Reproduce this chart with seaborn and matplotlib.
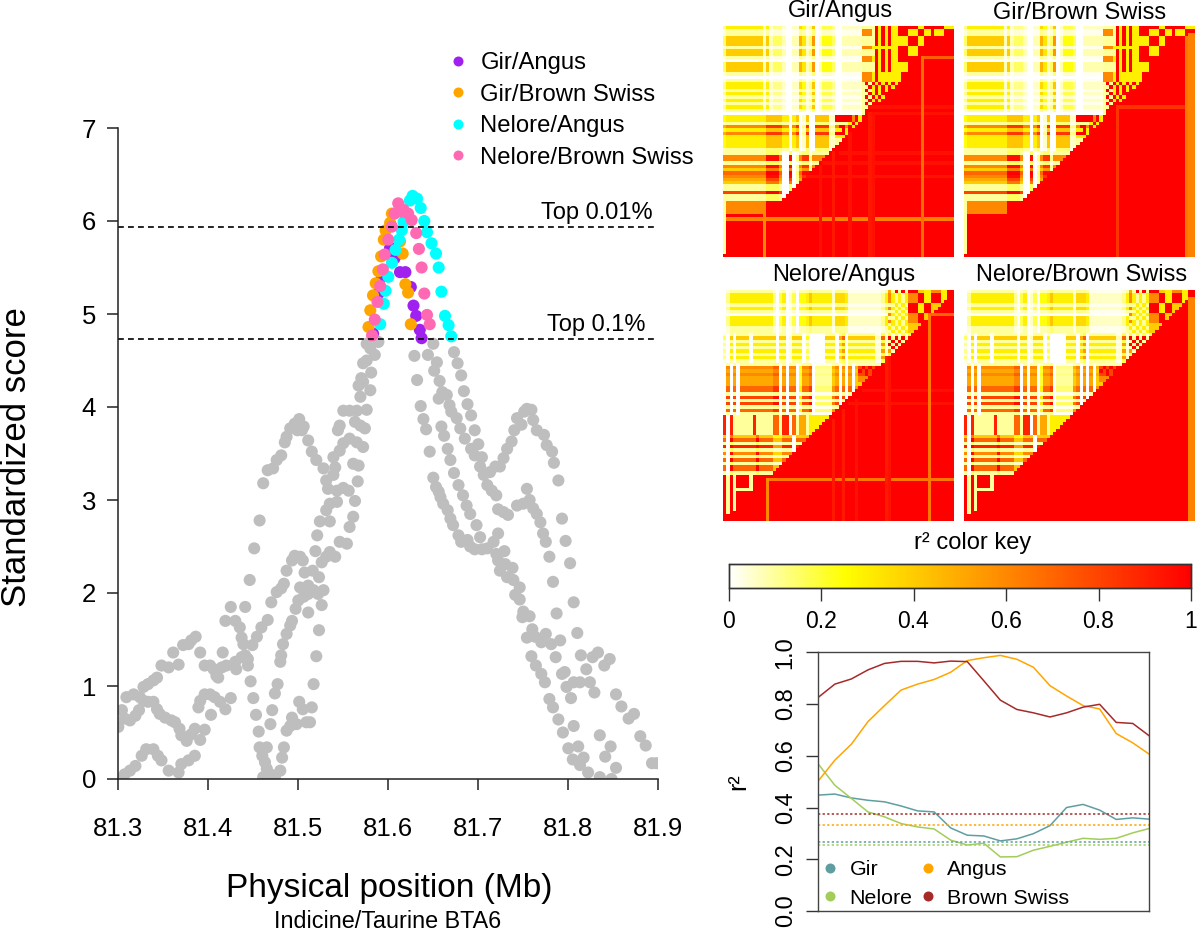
import numpy as np
import pandas as pd
import seaborn as sns
import matplotlib
matplotlib.use("Agg")
import matplotlib.pyplot as plt
from matplotlib.colors import LinearSegmentedColormap
from matplotlib.lines import Line2D

# ---------- main panel data: (position Mb, standardized score) ----------
GRAY_A = [(81.300,0.00),(81.307,.05),(81.313,.09),(81.319,.14),(81.326,.25),(81.331,.32),(81.339,.32),(81.344,.25),(81.348,.20),(81.356,.09),(81.367,.07),(81.370,.16),(81.378,.20),(81.385,.25)]
GRAY_B = [(81.300,.56),(81.304,.74),(81.307,.65),(81.313,.63),(81.319,.68),(81.323,.74),(81.309,.88),(81.317,.91),(81.324,.88),(81.328,.84),(81.333,.83),(81.339,.83),(81.343,.75),(81.346,.70),(81.352,.66),(81.359,.63),(81.363,.61),(81.368,.54),(81.370,.47),(81.376,.41),(81.381,.48),(81.385,.54),(81.391,.42),(81.396,.53)]
GRAY_C = [(81.328,.99),(81.333,1.02),(81.339,1.06),(81.343,1.09),(81.348,1.22),(81.356,1.20),(81.361,1.36),(81.367,1.23),(81.372,1.44),(81.378,1.45),(81.381,1.49),(81.386,1.53),(81.391,1.36)]
GRAY_D = [(81.389,.77),(81.391,.84),(81.396,.91),(81.402,.91),(81.407,.88),(81.413,.83),(81.419,.75),(81.403,.69),(81.425,.87)]
GRAY_E = [(81.396,1.22),(81.402,1.22),(81.406,1.18),(81.409,1.11),(81.411,1.09),(81.415,1.20),(81.420,1.22),(81.416,1.36),(81.431,1.18),(81.430,1.26),(81.437,1.31),(81.441,1.33),(81.444,1.29),(81.444,1.22),(81.447,1.05),(81.450,.87),(81.453,.69),(81.456,.51),(81.457,.34),(81.465,.34),(81.460,.25),(81.463,.18),(81.465,.11),(81.469,.05),(81.461,.02),(81.474,.02),(81.480,.09),(81.482,.23),(81.484,.34),(81.469,.59),(81.471,.74),(81.474,.92),(81.477,1.02),(81.487,.52),(81.491,.57),(81.493,.66),(81.498,.59),(81.509,.61),(81.513,.61),(81.501,.83),(81.505,.75),(81.515,.77),(81.517,1.02),(81.520,1.32),(81.523,1.60),(81.511,1.79)]
GRAY_F = [(81.419,1.70),(81.425,1.85),(81.430,1.70),(81.435,1.63),(81.437,1.52),(81.439,1.45),(81.449,1.44),(81.454,1.53),(81.459,1.63),(81.466,1.71),(81.441,1.85)]
GRAY_G = [(81.470,1.90),(81.476,2.01),(81.481,2.05),(81.484,2.10),(81.487,2.24),(81.493,2.35),(81.496,2.40),(81.502,2.39),(81.505,2.35),(81.446,2.14),(81.451,2.48),(81.457,2.78),(81.461,3.18)]
GRAY_H = [(81.480,1.26),(81.481,1.33),(81.483,1.45),(81.487,1.56),(81.491,1.65),(81.493,1.70),(81.497,1.83),(81.500,1.92),(81.506,1.96),(81.511,1.99),(81.517,2.03),(81.522,1.99),(81.528,2.03),(81.526,1.87),(81.502,2.06),(81.511,2.08),(81.507,2.22),(81.516,2.24),(81.523,2.17),(81.519,2.45),(81.521,2.62),(81.526,2.33),(81.531,2.39),(81.535,2.44),(81.541,2.39),(81.546,2.55),(81.554,2.53),(81.557,2.71),(81.561,2.82),(81.524,2.77),(81.535,2.77),(81.531,2.89),(81.535,2.96),(81.543,2.98),(81.531,3.21),(81.533,3.12),(81.543,3.10),(81.550,3.13),(81.556,3.10),(81.563,2.99),(81.566,3.20),(81.561,3.39),(81.567,3.37),(81.539,3.27),(81.541,3.35),(81.539,3.46),(81.546,3.53),(81.550,3.61),(81.557,3.66),(81.565,3.62),(81.572,3.57),(81.544,3.75),(81.546,3.80),(81.550,3.96),(81.557,3.96),(81.565,3.96),(81.576,3.97),(81.563,3.84),(81.569,3.80),(81.574,3.77),(81.569,4.11),(81.580,4.18),(81.567,4.23),(81.572,4.27)]
GRAY_I = [(81.485,3.62),(81.487,3.68),(81.491,3.77),(81.496,3.82),(81.501,3.87),(81.504,3.75),(81.506,3.79),(81.499,3.75),(81.511,3.64),(81.515,3.52),(81.520,3.43),(81.528,3.34),(81.466,3.32),(81.472,3.34),(81.476,3.43),(81.481,3.48)]
GRAY_TOP = [(81.570,4.31),(81.581,4.37),(81.572,4.47),(81.576,4.50),(81.585,4.56),(81.580,4.63),(81.576,4.68),(81.589,4.70)]
GRAY_R1 = [(81.629,4.55),(81.632,4.29),(81.636,4.01),(81.639,3.87),(81.642,3.76),(81.646,3.52),(81.650,3.24),(81.653,3.14),(81.656,3.09),(81.658,3.03),(81.661,2.96),(81.666,2.89),(81.669,2.80),(81.672,2.73),(81.678,2.62),(81.681,2.55),(81.688,2.57),(81.691,2.50),(81.696,2.47),(81.704,2.47),(81.710,2.48),(81.702,2.60),(81.722,2.64),(81.717,2.55),(81.729,2.45),(81.720,2.42),(81.722,2.35),(81.724,2.24),(81.730,2.31),(81.738,2.27),(81.732,2.17),(81.739,2.14),(81.746,2.06),(81.741,1.98),(81.746,1.93),(81.750,1.80),(81.749,1.74),(81.757,1.75),(81.760,1.61),(81.754,1.52),(81.763,1.53),(81.770,1.47),(81.775,1.56),(81.781,1.45),(81.791,1.49)]
GRAY_R2 = [(81.759,1.32),(81.764,1.22),(81.770,1.13),(81.774,1.04),(81.779,.86),(81.783,.77),(81.789,.64),(81.794,.50),(81.800,.33),(81.805,.21),(81.811,.35),(81.817,.23),(81.813,.15),(81.822,.07),(81.835,.02),(81.848,.00),(81.806,.57),(81.786,1.31),(81.793,1.13),(81.796,1.15),(81.798,.99),(81.803,.87),(81.806,1.04),(81.813,1.04),(81.824,1.04),(81.829,.93),(81.820,1.18),(81.814,1.33),(81.827,1.31),(81.833,1.36),(81.840,1.22),(81.846,1.29),(81.853,.91),(81.859,.78),(81.867,.65),(81.873,.70),(81.880,.46),(81.886,.36),(81.893,.17),(81.898,.17),(81.835,.47),(81.847,.35),(81.841,.24),(81.853,.12)]
GRAY_R3 = [(81.810,1.57),(81.806,1.90),(81.787,1.78),(81.802,2.32),(81.783,2.12),(81.797,2.56),(81.779,2.39),(81.793,2.80),(81.775,2.55),(81.772,2.64),(81.769,2.76),(81.765,2.85),(81.761,2.91),(81.757,3.00),(81.754,3.12),(81.750,2.96),(81.743,2.94),(81.733,2.84),(81.728,2.87),(81.722,2.90),(81.720,3.05),(81.715,3.10),(81.710,3.16),(81.706,3.27),(81.702,3.36),(81.696,3.48),(81.692,3.55),(81.685,3.66),(81.680,3.77),(81.676,3.88),(81.670,3.95),(81.668,4.02),(81.665,4.13),(81.656,4.09),(81.660,4.16),(81.657,4.28),(81.651,4.39),(81.654,4.48),(81.644,4.56),(81.650,4.68)]
GRAY_R4 = [(81.673,4.59),(81.677,4.47),(81.681,4.34),(81.684,4.17),(81.688,4.03),(81.692,3.91),(81.696,3.75),(81.700,3.60),(81.704,3.46),(81.719,3.36),(81.713,3.30),(81.724,3.36),(81.728,3.45),(81.732,3.55),(81.737,3.63),(81.740,3.75),(81.748,3.81),(81.743,3.88),(81.751,3.95),(81.754,3.98),(81.759,3.97),(81.761,3.86),(81.765,3.75),(81.773,3.70),(81.776,3.59),(81.782,3.52),(81.784,3.40),(81.789,3.21)]
GRAY_R5 = [(81.659,3.79),(81.662,3.69),(81.666,3.55),(81.669,3.43),(81.673,3.29),(81.678,3.16),(81.683,3.05),(81.687,2.94),(81.691,2.85),(81.698,2.73)]
GIR_ANGUS = [(81.637,4.74),(81.635,4.83),(81.631,4.98),(81.628,5.09),(81.625,5.29),(81.619,5.45),(81.613,5.45),(81.607,5.60),(81.602,5.71),(81.589,5.22),(81.583,4.79),(81.593,5.40)]
GIR_BROWN = [(81.578,4.86),(81.580,5.04),(81.583,5.20),(81.586,5.33),(81.589,5.46),(81.592,5.62),(81.595,5.80),(81.597,5.90),(81.602,5.98),(81.604,6.08),(81.616,5.65),(81.619,5.32),(81.622,5.23),(81.625,4.89),(81.613,5.78)]
NELORE_ANGUS = [(81.670,4.76),(81.667,4.88),(81.663,4.98),(81.659,5.24),(81.656,5.50),(81.653,5.65),(81.648,5.76),(81.643,5.88),(81.640,6.00),(81.636,6.14),(81.632,6.24),(81.627,6.27),(81.624,6.22),(81.617,5.99),(81.615,5.90),(81.612,5.80),(81.608,5.69),(81.604,5.55),(81.600,5.40),(81.597,5.25),(81.595,5.11),(81.591,4.89)]
NELORE_BROWN = [(81.582,4.77),(81.585,4.94),(81.588,5.13),(81.591,5.30),(81.594,5.48),(81.596,5.64),(81.600,5.80),(81.604,5.94),(81.607,6.08),(81.611,6.19),(81.615,6.10),(81.617,6.12),(81.622,6.08),(81.626,6.01),(81.631,5.87),(81.634,5.70),(81.637,5.50),(81.640,5.22),(81.643,4.99),(81.646,4.89)]
PAIR_NAMES = ["Gir/Angus", "Gir/Brown Swiss", "Nelore/Angus", "Nelore/Brown Swiss"]
PAIR_COLORS = ["#A020F0", "#FFA500", "#00FFFF", "#FF69B4"]
GRAY_COLOR = "#BEBEBE"
THRESHOLDS = [("Top 0.01%", 5.94), ("Top 0.1%", 4.73)]
X_TICKS = [81.3, 81.4, 81.5, 81.6, 81.7, 81.8, 81.9]
Y_TICKS = [0, 1, 2, 3, 4, 5, 6, 7]

# ---------- r2 decay lines ----------
BREEDS = ["Gir", "Nelore", "Angus", "Brown Swiss"]
BREED_COLORS = ["#5F9EA0", "#A2CD5A", "#FFA500", "#A52A2A"]
WINDOW = list(range(21))
R2_GIR = [.448,.452,.437,.428,.422,.406,.387,.383,.321,.293,.290,.271,.279,.299,.330,.400,.412,.390,.354,.360,.355]
R2_NELORE = [.568,.486,.435,.383,.364,.338,.325,.317,.274,.255,.262,.209,.210,.235,.250,.266,.281,.277,.281,.302,.319]
R2_ANGUS = [.503,.583,.645,.732,.794,.854,.877,.895,.923,.968,.979,.988,.973,.942,.871,.831,.794,.781,.686,.650,.606]
R2_BROWN = [.826,.877,.897,.932,.957,.965,.965,.959,.966,.964,.890,.815,.779,.766,.750,.766,.788,.799,.729,.725,.677]
R2_MEANS = [.265, .254, .334, .375]

# ---------- LD heat maps: levels are tenths of r2 ('a' = 1.0), column digits scale a row by digit/5 ----------
N_SNP = 70
GIR_PRODUCT = [
    (0, 0, "311444144104441013313131310", "255555555555151222100116412701333200111111"),
    (27, 0, "33163633331", "4555555555555777775505701700777711"),
    (38, 0, "166164765411811", "55555555555558888500801577155555"),
]
GIR_DIRECT = [
    (0, 42, ["1111a3a3a33aaaaaa33aaaaaa333",
             "6661a3a3a33aaa333aa33a333aaa", "6661a3a3a33aaa333aa33a333aaa",
             "1111a3a3a33333aaa33aa", "1111a3a3a33333aaa33aa", "1111a3a3a33333aaa33aa",
             "66633333333aaa333aa", "1111a3a3a33aaa333aa", "1111a3a3a33aaa333aa",
             "6663a3a3a33aaaaaa", "6663a3a3a33aaaaaa",
             "1111a3a3a33333a", "1111a3a3a33333a", "1111a3a3a33333a",
             "6663a3333333", "6663a3333333", "6663a3333333",
             "1a1a3a3a3a3", "11a3a3a3a3", "1a13a3a3a", "11a3a3a", "1a1a3a3", "11a3a3", "1a1a", "11a", "1a", "1", "1"]),
    (27, 34, ["aaaaa6a3a", "aaaaa6a3a", "11113a3a", "6aa6a3", "33a3a3", "aaa3a", "3333", "11", "1"]),
    (53, 0, ["1666666666666"] * 4),
    (57, 0, ["1"] * 12),
]
NELORE_PRODUCT = [
    (0, 0, "1333131033311", "02555555555555520350130445755555516665111111111125"),
    (13, 0, "141313131", "205055550555555505501555030000055506905555555511919191919"),
    (22, 0, "1656555771818171", "050505555555555660505502556011111450505044444444444"),
    (38, 0, "555555", "90911111191111177199071551333333"),
    (44, 0, "471916171771", "50855555558555533355505555"),
]
NELORE_DIRECT = [
    (0, 50, ["51a1a1aaa443366633", "631313666aa33aaa33", "631313666aa33aaa33", "631313666aa33aaa33",
             "113131aaa33aa4443", "631313aaa33aa4443", "113131aaa33aa4443",
             "631313666aa44", "113131666aa44", "631313666aa44",
             "1313134444", "3131314444", "1313134444"]),
    (14, 50, ["a1a1a1", "1a1a1", "a1a1", "1a1"]),
    (23, 41, ["8a8a8a", "a8a8a", "88a8a", "6666", "666"]),
    (56, 0, ["a1a1aaaa1", "a1a1aaaa1", "a1a1aaaa1", "a1a1aaaa1", "a1a111111",
             "a1a1", "a1a1", "a1a1", "a1a1", "a1a1", "a1a1", "a1a1"]),
]
# (row, first column, r2) and (column, first row, r2) of the paler lines in the red half
GA_ROWS = [(58,1,.62),(9,60,.72),(38,35,.95),(45,25,.94),(41,30,.95),(24,44,.95),(26,44,.95)]
GA_COLS = [(12,57,.6),(60,9,.68),(29,42,.95),(33,38,.93),(44,26,.93),(45,27,.95),(38,32,.95)]
GB_ROWS = [(24,46,.85)]
GB_COLS = [(46,24,.85),(67,3,.65),(68,2,.62),(69,2,.62)]
NA_ROWS = [(57,13,.65),(7,62,.7),(30,42,.95),(34,38,.95)]
NA_COLS = [(13,57,.6),(62,7,.65),(33,39,.93),(36,36,.93),(40,33,.95),(49,20,.92),(50,20,.95)]
NB_ROWS = []
NB_COLS = [(68,2,.62),(69,2,.62)]
KEY_TICKS = [0, 0.2, 0.4, 0.6, 0.8, 1]


def level(c):
    return int(c, 11) / 10


def ld_matrix(product, direct, stripe_rows, stripe_cols):
    m = np.ones((N_SNP, N_SNP))
    for r0, c0, rows, cols in product:
        for i, rc in enumerate(rows):
            for j, cc in enumerate(cols):
                m[r0 + i, c0 + j] = min(1.0, level(rc) * int(cc) / 5)
    for r0, c0, rows in direct:
        for i, row in enumerate(rows):
            for j, c in enumerate(row):
                if c0 + j < N_SNP:
                    m[r0 + i, c0 + j] = level(c)
    for i in range(N_SNP):
        m[i, N_SNP - i:] = 1.0
    for r, c0, v in stripe_rows:
        m[r, c0:] = v
    for c, r0, v in stripe_cols:
        m[r0:, c] = v
    return m


sns.set_style("ticks")
plt.rcParams["font.family"] = ["Liberation Sans", "DejaVu Sans"]
plt.rcParams.update({"text.color": "black", "xtick.labelcolor": "black", "ytick.labelcolor": "black"})
W, H = 1200, 939
fig = plt.figure(figsize=(W / 100, H / 100), dpi=100)


def axes_px(x0, y0, x1, y1):
    return fig.add_axes([x0 / W, 1 - y1 / H, (x1 - x0) / W, (y1 - y0) / H])


def text_px(x, y, s, **kw):
    kw.setdefault("ha", "center")
    kw.setdefault("va", "center")
    fig.text(x / W, 1 - y / H, s, color="black", **kw)


# ---------- main scatter ----------
gray = GRAY_A + GRAY_B + GRAY_C + GRAY_D + GRAY_E + GRAY_F + GRAY_G + GRAY_H + GRAY_I + GRAY_TOP + GRAY_R1 + GRAY_R2 + GRAY_R3 + GRAY_R4 + GRAY_R5
frames = [pd.DataFrame(gray, columns=["pos", "score"]).assign(pair="other")]
for name, pts in zip(PAIR_NAMES, [GIR_ANGUS, GIR_BROWN, NELORE_ANGUS, NELORE_BROWN]):
    frames.append(pd.DataFrame(pts, columns=["pos", "score"]).assign(pair=name))
scores = pd.concat(frames, ignore_index=True)

ax = axes_px(118.3, 128, 658.3, 779)
sns.scatterplot(data=scores, x="pos", y="score", hue="pair", hue_order=["other"] + PAIR_NAMES,
                palette=[GRAY_COLOR] + PAIR_COLORS, s=76, linewidth=0, legend=False, alpha=1, ax=ax)
ax.set_xlim(81.3, 81.9)
ax.set_ylim(0, 7)
ax.set_xticks(X_TICKS)
ax.set_xticklabels([f"{v:.1f}" for v in X_TICKS])
ax.set_yticks(Y_TICKS)
ax.set_xlabel("")
ax.set_ylabel("")
ax.tick_params(axis="x", length=8, width=1.1, pad=19, labelsize=18.5, color="#222222")
ax.tick_params(axis="y", length=8, width=1.1, pad=8, labelsize=18.5, color="#222222")
sns.despine(ax=ax)
for s in ("left", "bottom"):
    ax.spines[s].set_linewidth(1.1)
    ax.spines[s].set_color("#222222")
for (label, value), right in zip(THRESHOLDS, [81.894, 81.8863]):
    ax.axhline(value, color="black", ls=(0, (3.5, 2.5)), lw=1.2)
    ax.text(right, value + 0.03, label, ha="right", va="bottom", fontsize=17)
text_px(389, 889, "Physical position (Mb)", fontsize=24)
text_px(388, 921, "Indicine/Taurine BTA6", fontsize=16.8)
text_px(17, 457, "Standardized score", fontsize=25, rotation=90)
handles = [Line2D([], [], ls="", marker="o", ms=7.2, mew=0, color=c) for c in PAIR_COLORS]
fig.legend(handles, PAIR_NAMES, loc="upper left", bbox_to_anchor=(446 / W, 1 - 52 / H), frameon=False,
           fontsize=17.2, borderpad=0, borderaxespad=0, labelspacing=0.4, handlelength=1, handletextpad=0.44)

# ---------- LD panels ----------
r2_cmap = LinearSegmentedColormap.from_list("r2", [(0, "#FFFFFF"), (0.25, "#FFFF00"), (1, "#FF0000")])
panels = [
    ("Gir/Angus", ld_matrix(GIR_PRODUCT, GIR_DIRECT, GA_ROWS, GA_COLS), (723, 26, 954, 257), (840, 11)),
    ("Gir/Brown Swiss", ld_matrix(GIR_PRODUCT, GIR_DIRECT, GB_ROWS, GB_COLS), (964, 26, 1195, 257), (1080, 13)),
    ("Nelore/Angus", ld_matrix(NELORE_PRODUCT, NELORE_DIRECT, NA_ROWS, NA_COLS), (723, 290, 954, 521), (844, 275)),
    ("Nelore/Brown Swiss", ld_matrix(NELORE_PRODUCT, NELORE_DIRECT, NB_ROWS, NB_COLS), (964, 290, 1195, 521), (1082, 275)),
]
key_ax = axes_px(728.5, 564, 1191, 588)
for k, (title, mat, box, tpos) in enumerate(panels):
    hax = axes_px(*box)
    sns.heatmap(mat, ax=hax, cmap=r2_cmap, vmin=0, vmax=1, xticklabels=False, yticklabels=False,
                cbar=k == 0, cbar_ax=key_ax if k == 0 else None,
                cbar_kws={"orientation": "horizontal", "ticks": KEY_TICKS} if k == 0 else None)
    text_px(tpos[0], tpos[1], title, fontsize=17)
key_ax.set_xticklabels([f"{v:g}" for v in KEY_TICKS])
key_ax.tick_params(axis="x", length=9, width=1, pad=7, labelsize=16.5, color="#333333")
for sp in key_ax.spines.values():
    sp.set_visible(True)
    sp.set_linewidth(1)
    sp.set_color("#333333")
text_px(973, 543, "r\u00b2 color key", fontsize=17)

# ---------- r2 lines ----------
lines = pd.DataFrame({"window": WINDOW * 4,
                      "r2": R2_GIR + R2_NELORE + R2_ANGUS + R2_BROWN,
                      "breed": sum([[b] * len(WINDOW) for b in BREEDS], [])})
lax = axes_px(818.3, 652.3, 1149.3, 911)
sns.lineplot(data=lines, x="window", y="r2", hue="breed", hue_order=BREEDS, palette=BREED_COLORS,
             lw=1.1, legend=False, errorbar=None, estimator=None, ax=lax)
for mean, color in zip(R2_MEANS, BREED_COLORS):
    lax.axhline(mean, color=color, ls=(0, (1.5, 1.5)), lw=1.1)
lax.set_xlim(0, 20)
lax.set_ylim(0, 1)
lax.set_xticks([])
lax.set_yticks([0, .2, .4, .6, .8, 1.0])
lax.set_yticklabels(["0.0", "0.2", "0.4", "0.6", "0.8", "1.0"], rotation=90, va="center")
lax.set_xlabel("")
lax.set_ylabel("")
lax.tick_params(axis="y", length=8.6, width=1, pad=7, labelsize=17, color="#333333")
for sp in lax.spines.values():
    sp.set_linewidth(1)
    sp.set_color("#444444")
text_px(738, 782, "r\u00b2", fontsize=18, rotation=90)
bh = [Line2D([], [], ls="", marker="o", ms=7.2, mew=0, color=c) for c in BREED_COLORS]
fig.legend(bh, BREEDS, loc="upper left", ncol=2, bbox_to_anchor=(819 / W, 1 - 860 / H), frameon=False,
           fontsize=15.4, borderpad=0, borderaxespad=0, labelspacing=0.45, handlelength=1,
           handletextpad=0.43, columnspacing=0.2)

fig.savefig("out.png", dpi=100, facecolor="white")
